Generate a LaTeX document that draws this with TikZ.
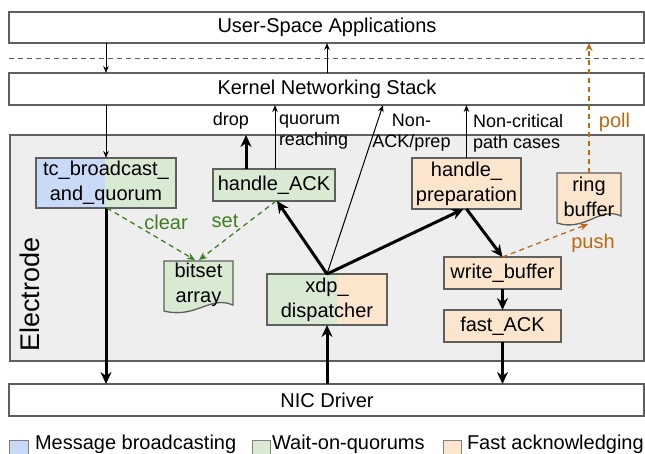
\documentclass[tikz,border=0pt]{standalone}
\usepackage{fontspec}
\setmainfont{Liberation Sans}
\usetikzlibrary{arrows.meta}
\definecolor{bluef}{HTML}{C9DAF8}
\definecolor{greenf}{HTML}{D9EAD3}
\definecolor{orangef}{HTML}{FCE5CD}
\definecolor{grayf}{HTML}{EEEEEE}
\definecolor{bord}{HTML}{5F5F5F}
\definecolor{dgreen}{HTML}{3F7F22}
\definecolor{dorange}{HTML}{BB6A14}
\begin{document}
\begin{tikzpicture}[x=1pt,y=-1pt,
  every node/.style={inner sep=0pt, outer sep=0pt},
  nf/.style={font=\fontsize{20}{25}\selectfont},
  lf/.style={font=\fontsize{18}{21}\selectfont},
  layer/.style={nf, draw=bord, line width=1.3pt, fill=white, anchor=north west, minimum width=635pt},
  fbox/.style={nf, draw=bord, line width=1.3pt, align=center},
  doc/.style={draw=bord, line width=1.3pt},
  thin/.style={draw=black, line width=1pt, -{Stealth[length=7pt,width=5.5pt]}},
  thick/.style={draw=black, line width=3pt, -{Stealth[length=12pt,width=11pt]}},
  gdash/.style={draw=dgreen, line width=1.3pt, dash pattern=on 5pt off 4pt, -{Stealth[length=8pt,width=7pt]}},
  odash/.style={draw=dorange, line width=1.3pt, dash pattern=on 5pt off 4pt, -{Stealth[length=8pt,width=7pt]}},
]
\useasboundingbox (0,0) rectangle (645,453);

% layers
\node[layer, minimum height=31pt] (user) at (9,12) {};
\node[nf] (usert) at (327,27.5) {User-Space Applications};
\draw[draw=bord, line width=1pt, dash pattern=on 5pt off 4pt] (9,58) -- (645,58);
\node[layer, minimum height=32pt] (kern) at (9,73) {};
\node[nf] (kernt) at (327,89) {Kernel Networking Stack};
\node[layer, minimum height=32pt] (nic) at (9,384) {};
\node[nf] (nict) at (327,400) {NIC Driver};

% electrode region
\node[draw=bord, line width=1.3pt, fill=grayf, anchor=north west, minimum width=634pt, minimum height=226pt] (elec) at (10,135) {};
\node[rotate=90, font=\fontsize{27}{30}\selectfont] (elect) at (30,294.5) {Electrode};

% function boxes
\node[fbox, fill=greenf, minimum width=140pt, minimum height=50pt,
  path picture={\fill[bluef] (path picture bounding box.north west) rectangle ([xshift=-1pt]path picture bounding box.south);}]
  (tc) at (106,183) {tc\_broadcast\_\\and\_quorum};
\node[fbox, fill=greenf, minimum width=122pt, minimum height=32pt] (ack) at (274,185) {handle\_ACK};
\node[fbox, fill=orangef, minimum width=109pt, minimum height=51pt] (prep) at (466.5,183.5) {handle\_\\preparation};
\node[fbox, fill=orangef, minimum width=117pt, minimum height=32pt] (wb) at (502.5,273) {write\_buffer};
\node[fbox, fill=orangef, minimum width=117pt, minimum height=32pt] (fa) at (502.5,326) {fast\_ACK};
\node[fbox, fill=orangef, minimum width=120pt, minimum height=51pt,
  path picture={\fill[greenf] (path picture bounding box.north west) rectangle ([xshift=10pt]path picture bounding box.south);}]
  (xdp) at (327,299.5) {xdp\_\\dispatcher};

% document shapes
\draw[doc, fill=greenf] (164,261) -- (233,261) -- (233,305) .. controls (210,295) and (196,319) .. (164,311) -- cycle;
\node[nf, align=center] (bits) at (198.5,285) {bitset\\array};
\draw[doc, fill=orangef] (557,173) -- (621,173) -- (621,216) .. controls (600,206) and (585,232) .. (557,223) -- cycle;
\node[nf, align=center] (ring) at (589,197) {ring\\buffer};
\coordinate (ringtop) at (589,173);
\coordinate (ringbot) at (588,224);
\coordinate (bsa) at (195,260);
\coordinate (bsb) at (199,260);
\coordinate (dropend) at (246,135);
\coordinate (nack) at (383,105);

% connectors
\draw[thin] (tc.north |- user.south) -- (tc.north |- kern.north);
\draw[thin] (xdp.north |- kern.north) -- (xdp.north |- user.south);
\draw[thin] (tc.north |- kern.south) -- (tc.north);
\draw[thick] (tc.south) -- (tc.south |- nic.north);
\draw[thick] (ack.north -| dropend) -- (dropend);
\draw[thin] ([xshift=1pt]ack.north) -- ([xshift=1pt]ack.north |- kern.south);
\draw[thick] (xdp.north) -- ([xshift=3pt]ack.south);
\draw[thick] (xdp.north) -- ([xshift=-3pt]prep.south);
\draw[thin] (xdp.north) -- (nack);
\draw[thin] (prep.north) -- (prep.north |- kern.south);
\draw[thick] (xdp.south |- nic.north) -- (xdp.south);
\draw[thick] (prep.south) -- (wb.north);
\draw[thick] (wb.south) -- (fa.north);
\draw[thick] (fa.south) -- (fa.south |- nic.north);
\draw[odash] (wb.north) -- (ringbot);
\draw[odash] (ringtop) -- (ringtop |- user.south);
\draw[gdash] ([xshift=1pt]tc.south) -- (bsa);
\draw[gdash] ([xshift=2pt]ack.south) -- (bsb);

% labels
\node[lf] (ldrop) at (231,121) {drop};
\node[lf, align=left, anchor=west] (lquo) at (279,132.5) {quorum\\reaching};
\node[lf, align=center] (lnack) at (411.5,133) {Non-\\ACK/prep};
\node[lf, align=left, anchor=west] (lnc) at (473,133) {Non-critical\\path cases};
\node[nf, text=dorange] (lpoll) at (614.5,122) {poll};
\node[nf, text=dorange] (lpush) at (593,243) {push};
\node[nf, text=dgreen] (lclear) at (166,222) {clear};
\node[nf, text=dgreen] (lset) at (225,221) {set};

% legend
\draw[draw=bord!80, line width=1pt, fill=bluef] (9,440) rectangle (28,459);
\node[nf, anchor=base west] (leg1) at (35,449) {Message broadcasting};
\draw[draw=bord!80, line width=1pt, fill=greenf] (252,440) rectangle (270,459);
\node[nf, anchor=base west] (leg2) at (272,449) {Wait-on-quorums};
\draw[draw=bord!80, line width=1pt, fill=orangef] (443,440) rectangle (461,459);
\node[nf, anchor=base west] (leg3) at (467,449) {Fast acknowledging};
\end{tikzpicture}
\end{document}
